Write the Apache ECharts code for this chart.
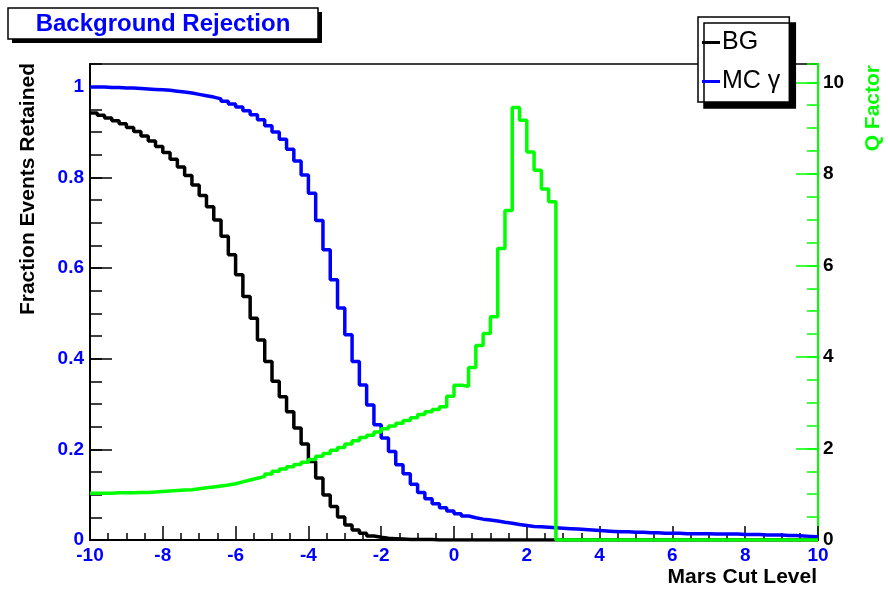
<!DOCTYPE html>
<html><head><meta charset="utf-8">
<script src="https://cdn.jsdelivr.net/npm/echarts@6/dist/echarts.min.js"></script>
<style>html,body{margin:0;padding:0;background:#fff}#c{width:888px;height:590px}</style>
</head><body><div id="c"></div>
<script>
// Histogram binning: 100 bins from -10 to 10
const binLow = -10, binWidth = 0.2;

const bgValues = [
0.942,0.937,0.931,0.925,0.918,0.910,0.901,0.891,0.880,0.868,
0.855,0.840,0.823,0.804,0.783,0.760,0.735,0.706,0.670,0.629,
0.585,0.537,0.489,0.441,0.394,0.350,0.316,0.283,0.247,0.212,
0.173,0.137,0.099,0.074,0.051,0.033,0.022,0.015,0.009,0.006,
0.004,0.003,0.002,0.001,0.001,0.001,0.001,0,0,0,
0,0,0,0,0,0,0,0,0,0,
0,0,0,0,0,0,0,0,0,0,
0,0,0,0,0,0,0,0,0,0,
0,0,0,0,0,0,0,0,0,0,
0,0,0,0,0,0,0,0,0,0];

const mcValues = [
0.999,0.999,0.998,0.998,0.997,0.997,0.996,0.995,0.994,0.993,
0.992,0.990,0.988,0.986,0.983,0.980,0.977,0.973,0.968,0.962,
0.955,0.947,0.938,0.927,0.914,0.900,0.884,0.862,0.836,0.805,
0.765,0.705,0.640,0.574,0.512,0.453,0.394,0.342,0.298,0.254,
0.225,0.195,0.166,0.146,0.123,0.105,0.091,0.080,0.071,0.064,
0.058,0.053,0.049,0.046,0.044,0.042,0.039,0.037,0.034,0.032,
0.030,0.029,0.028,0.027,0.026,0.025,0.024,0.023,0.022,0.021,
0.020,0.019,0.018,0.018,0.017,0.017,0.016,0.016,0.015,0.015,
0.015,0.014,0.014,0.014,0.014,0.013,0.013,0.013,0.013,0.012,
0.012,0.012,0.011,0.011,0.011,0.010,0.010,0.009,0.008,0.007];

const qValues = [
1.02,1.02,1.02,1.03,1.03,1.03,1.04,1.04,1.05,1.06,
1.07,1.08,1.09,1.10,1.12,1.14,1.16,1.18,1.20,1.23,
1.27,1.31,1.35,1.39,1.44,1.50,1.55,1.60,1.65,1.70,
1.76,1.83,1.89,1.96,2.02,2.10,2.17,2.24,2.29,2.36,
2.43,2.49,2.55,2.61,2.67,2.74,2.80,2.85,2.91,3.14,
3.38,3.36,3.77,4.25,4.51,4.88,6.37,7.20,9.45,9.17,
8.48,8.08,7.67,7.39,0,0,0,0,0,0,
0,0,0,0,0,0,0,0,0,0,
0,0,0,0,0,0,0,0,0,0,
0,0,0,0,0,0,0,0,0,0];

const leftTicks = [0, 0.2, 0.4, 0.6, 0.8, 1];
const rightTicks = [0, 2, 4, 6, 8, 10];
const seriesNames = ['BG', 'MC \u03b3', 'Q Factor'];

function toSteps(vals) {
  const d = vals.map((v, i) => [binLow + i * binWidth, v]);
  d.push([binLow + vals.length * binWidth, vals[vals.length - 1]]);
  return d;
}

const FF = '"Liberation Sans", Arial, Helvetica, sans-serif';
const BLUE = '#0000ff', GREEN = '#00ff00', BLACK = '#000000';
const chart = echarts.init(document.getElementById('c'), null, {renderer: 'canvas'});

function isMult(v, step) { const r = v / step; return Math.abs(r - Math.round(r)) < 1e-6; }

chart.setOption({
  animation: false,
  backgroundColor: '#fff',
  grid: {left: 90, right: 70, top: 64, bottom: 50, show: true, borderColor: BLACK, borderWidth: 1.5, backgroundColor: '#fff'},
  xAxis: {
    type: 'value', min: -10, max: 10, interval: 2,
    axisLine: {onZero: false, lineStyle: {color: BLACK, width: 2}},
    axisTick: {inside: true, length: 14, lineStyle: {color: BLACK, width: 1.5}},
    minorTick: {show: true, splitNumber: 4, length: 7, lineStyle: {color: BLACK, width: 1.5}},
    splitLine: {show: false}, minorSplitLine: {show: false},
    axisLabel: {color: BLUE, fontWeight: 'bold', fontSize: 19, fontFamily: FF, margin: 6}
  },
  yAxis: [
    {
      type: 'value', position: 'left', min: 0, max: 1.05, interval: 0.05,
      axisLine: {show: true, onZero: false, lineStyle: {color: BLACK, width: 2}},
      axisTick: {inside: true, length: 12, lineStyle: {color: BLACK, width: 1.5}},
      splitLine: {show: false},
      axisLabel: {color: BLUE, fontWeight: 'bold', fontSize: 19, fontFamily: FF, margin: 6,
        formatter: v => (isMult(v, 0.2) && v <= 1.0001) ? String(+v.toFixed(1)) : ''}
    },
    {
      type: 'value', position: 'right', min: 0, max: 10.4, interval: 0.5,
      axisLine: {show: true, onZero: false, lineStyle: {color: GREEN, width: 2}},
      axisTick: {inside: true, length: 11, lineStyle: {color: GREEN, width: 1.5}},
      splitLine: {show: false},
      axisLabel: {color: BLACK, fontWeight: 'bold', fontSize: 19, fontFamily: FF, margin: 5,
        formatter: v => (isMult(v, 2) && v <= 10.0001) ? String(Math.round(v)) : ''}
    },
    {
      type: 'value', position: 'left', min: 0, max: 1.05, interval: 0.2,
      axisLine: {show: false, onZero: false},
      axisTick: {inside: true, length: 22, customValues: leftTicks, lineStyle: {color: BLACK, width: 1.5}},
      axisLabel: {show: false}, splitLine: {show: false}
    },
    {
      type: 'value', position: 'right', min: 0, max: 10.4, interval: 2,
      axisLine: {show: false, onZero: false},
      axisTick: {inside: true, length: 22, customValues: rightTicks, lineStyle: {color: GREEN, width: 1.5}},
      axisLabel: {show: false}, splitLine: {show: false}
    }
  ],
  legend: {
    data: [seriesNames[0], seriesNames[1]],
    orient: 'vertical', left: 698, top: 17,
    padding: [13, 9, 8, 4], itemGap: 14,
    icon: 'rect', itemWidth: 18, itemHeight: 3,
    backgroundColor: '#fff', borderColor: BLACK, borderWidth: 1.5,
    shadowColor: BLACK, shadowOffsetX: 6, shadowOffsetY: 6, shadowBlur: 0,
    textStyle: {fontSize: 25, fontFamily: FF, color: BLACK, padding: [0, 0, 0, -3]}
  },
  series: [
    {name: seriesNames[0], type: 'line', step: 'end', data: toSteps(bgValues), yAxisIndex: 0,
      symbol: 'none', showSymbol: false, color: BLACK, lineStyle: {width: 3.5, color: BLACK}, z: 3},
    {name: seriesNames[1], type: 'line', step: 'end', data: toSteps(mcValues), yAxisIndex: 0,
      symbol: 'none', showSymbol: false, color: BLUE, lineStyle: {width: 3.5, color: BLUE}, z: 4},
    {name: seriesNames[2], type: 'line', step: 'end', data: toSteps(qValues), yAxisIndex: 1,
      symbol: 'none', showSymbol: false, color: GREEN, lineStyle: {width: 3.5, color: GREEN}, z: 5}
  ],
  graphic: [
    {type: 'rect', shape: {x: 12, y: 12, width: 310, height: 31}, style: {fill: BLACK}, z: 10},
    {type: 'rect', shape: {x: 8, y: 8, width: 310, height: 31}, style: {fill: '#fff', stroke: BLACK, lineWidth: 1.5}, z: 11},
    {type: 'text', x: 163, y: 24, z: 12, style: {text: 'Background Rejection', fill: BLUE, align: 'center', verticalAlign: 'middle', font: 'bold 24px ' + FF}},
    {type: 'text', x: 28, y: 63, rotation: Math.PI / 2, z: 12, style: {text: 'Fraction Events Retained', fill: BLACK, align: 'right', verticalAlign: 'middle', font: 'bold 21px ' + FF}},
    {type: 'text', x: 873, y: 65, rotation: Math.PI / 2, z: 12, style: {text: 'Q Factor', fill: GREEN, align: 'right', verticalAlign: 'middle', font: 'bold 21px ' + FF}},
    {type: 'text', x: 817, y: 577, z: 12, style: {text: 'Mars Cut Level', fill: BLACK, align: 'right', verticalAlign: 'middle', font: 'bold 21px ' + FF}}
  ]
});
</script></body></html>
